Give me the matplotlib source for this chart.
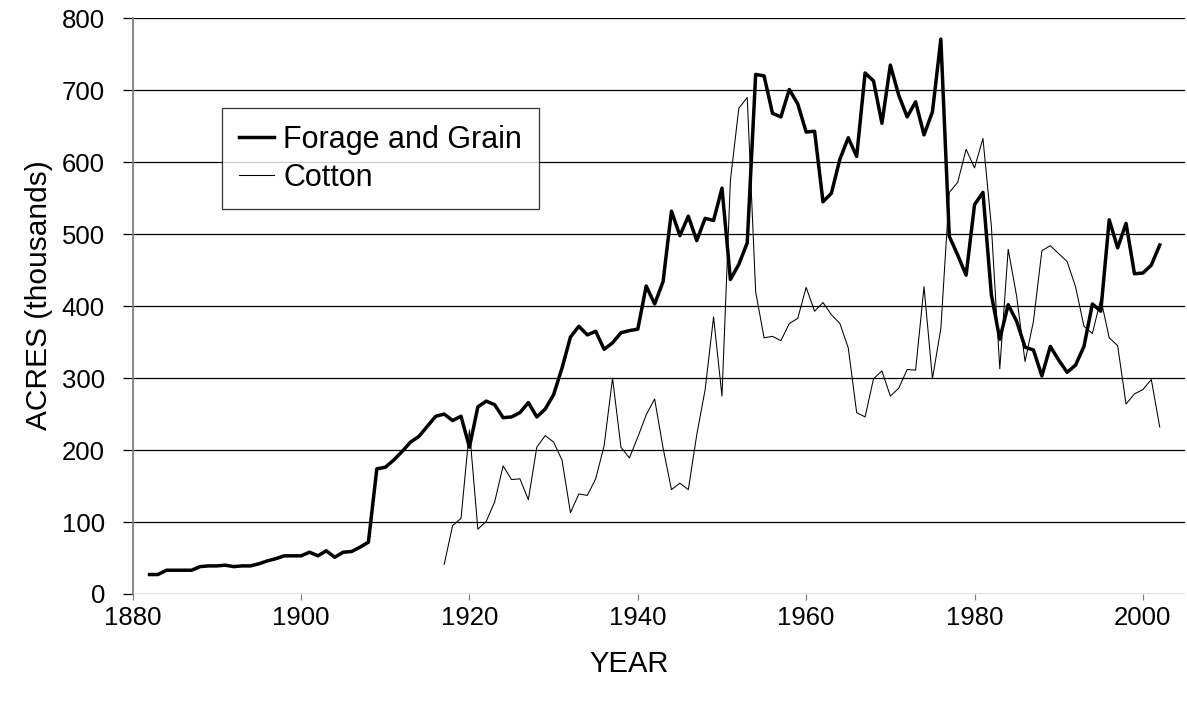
import numpy as np, matplotlib
matplotlib.use("Agg")
import matplotlib.pyplot as plt

matplotlib.rcParams.update({
    "font.family": ["Liberation Sans", "DejaVu Sans"],
    "font.size": 18.5,
})

# ── Data (thousand acres) ─────────────────────────────────────
FORAGE_START = 1882
forage = [27, 27, 33, 33, 33, 33, 38, 39, 39, 40,
          38, 39, 39, 42, 46, 49, 53, 53, 53, 58,
          53, 60, 51, 58, 59, 65, 72, 174, 176, 186,
          198, 211, 219, 233, 247, 250, 241, 247, 204, 260,
          268, 263, 245, 246, 252, 266, 246, 257, 277, 314,
          357, 372, 360, 365, 340, 349, 363, 366, 368, 428,
          403, 434, 532, 498, 525, 491, 522, 519, 564, 437,
          458, 488, 722, 720, 668, 663, 701, 681, 642, 643,
          545, 557, 604, 634, 608, 724, 713, 654, 735, 693,
          663, 684, 638, 670, 771, 497, 471, 443, 541, 558,
          416, 354, 402, 379, 343, 339, 303, 344, 325, 308,
          318, 344, 403, 393, 520, 481, 515, 445, 446, 457,
          485]

COTTON_START = 1917
cotton = [41, 95, 105, 228, 90, 101, 128, 178, 159, 160,
          131, 204, 220, 211, 186, 113, 139, 137, 160, 206,
          300, 204, 189, 218, 249, 271, 203, 145, 154, 145,
          221, 284, 385, 275, 575, 675, 690, 420, 356, 358,
          352, 376, 383, 426, 393, 405, 388, 376, 342, 252,
          246, 299, 310, 275, 286, 312, 311, 427, 299, 369,
          558, 572, 618, 592, 633, 511, 313, 479, 414, 323,
          379, 477, 484, 473, 462, 427, 372, 362, 410, 356,
          345, 264, 278, 284, 298, 232]

forage_years = np.arange(FORAGE_START, FORAGE_START + len(forage))
cotton_years = np.arange(COTTON_START, COTTON_START + len(cotton))

X_TICKS = [1880, 1900, 1920, 1940, 1960, 1980, 2000]
Y_TICKS = [0, 100, 200, 300, 400, 500, 600, 700, 800]

# ── Figure ────────────────────────────────────────────────────
fig = plt.figure(figsize=(11.87, 7.04), dpi=100)
ax = fig.add_axes([0.1118, 0.1563, 0.8865, 0.8177])

for y in Y_TICKS:
    ax.axhline(y, color="black", linewidth=0.9, zorder=1)

ax.plot(forage_years, forage, color="black", linewidth=2.5,
        label="Forage and Grain", zorder=3)
ax.plot(cotton_years, cotton, color="black", linewidth=0.75,
        label="Cotton", zorder=2)

ax.set_xlim(1880, 2005)
ax.set_ylim(0, 800)
ax.set_xticks(X_TICKS)
ax.set_yticks(Y_TICKS)

for side in ["top", "right", "bottom"]:
    ax.spines[side].set_visible(False)
ax.spines["left"].set_color("#808080")
ax.spines["left"].set_linewidth(1.3)

ax.tick_params(axis="y", length=7.5, width=0.9, color="black", pad=12.5)
ax.tick_params(axis="x", length=4.5, width=0.9, color="#808080", pad=4)

ax.set_xlabel("YEAR", fontsize=21)
ax.set_ylabel("ACRES (thousands)", fontsize=21.5)
ax.xaxis.set_label_coords(0.472, -0.097)
ax.yaxis.set_label_coords(-0.0755, 0.519)

leg = ax.legend(loc="upper left", bbox_to_anchor=(0.0849, 0.844),
                frameon=True, fancybox=False, fontsize=22,
                borderpad=0.55, handlelength=1.15, handletextpad=0.3,
                labelspacing=0.25, borderaxespad=0)
leg.get_frame().set_edgecolor("black")
leg.get_frame().set_linewidth(0.9)

fig.savefig("out.png", dpi=100, facecolor="white")
